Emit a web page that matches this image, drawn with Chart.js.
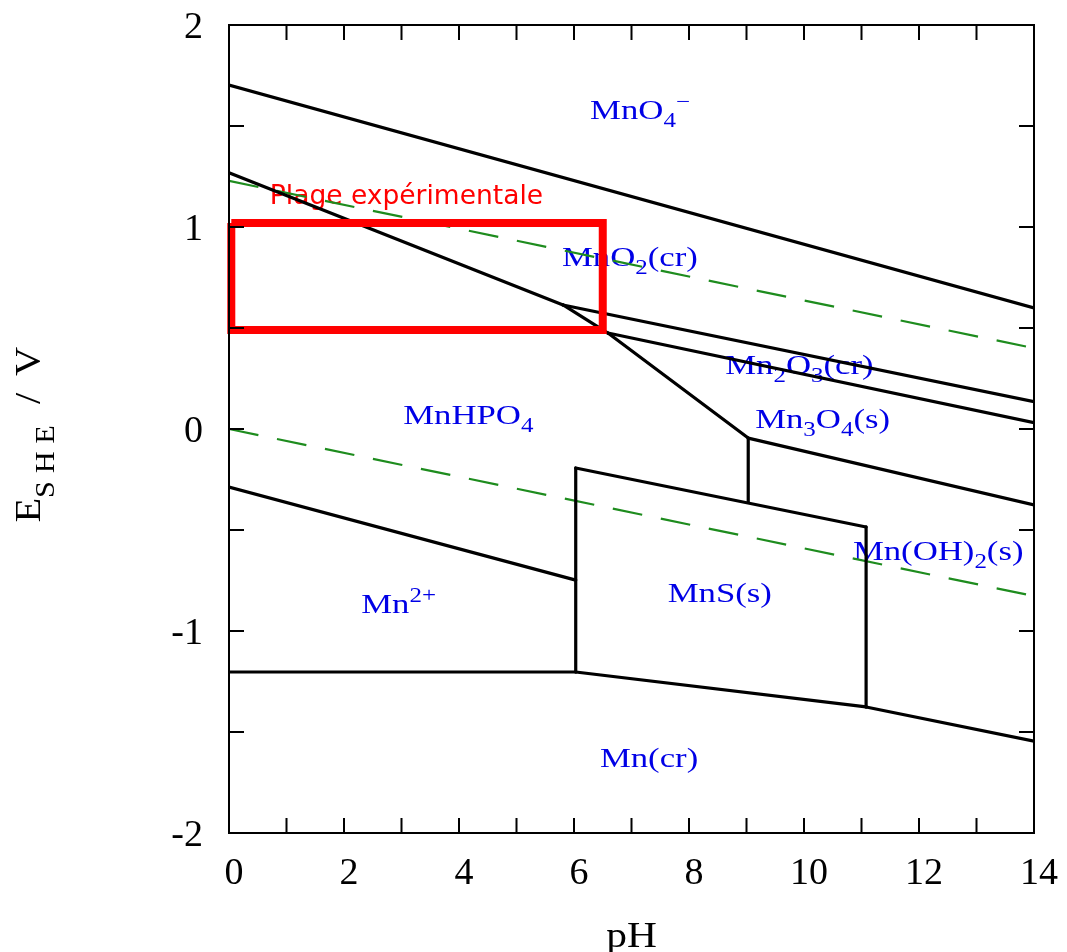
<!DOCTYPE html>
<html><head><meta charset="utf-8">
<script src="https://cdn.jsdelivr.net/npm/chart.js@4.4.0/dist/chart.umd.min.js"></script>
<style>html,body{margin:0;padding:0;background:#fff;} canvas{display:block;}</style>
</head><body>
<canvas id="c" width="1067" height="952"></canvas>
<script>
// ---------------- data ----------------
const xTickLabels = [0, 2, 4, 6, 8, 10, 12, 14];
const yTickLabels = [-2, -1, 0, 1, 2];

const boundaryNames = ['MnO4-/MnO2', 'MnO2/MnHPO4', 'MnO2/Mn2O3', 'Mn2O3/MnHPO4', 'Mn2O3/Mn3O4',
  'Mn3O4/MnHPO4', 'Mn3O4/Mn(OH)2', 'MnHPO4/Mn(OH)2', 'MnHPO4/MnS', 'Mn2+/MnS', 'MnS/Mn(OH)2',
  'Mn2+/MnHPO4', 'Mn2+/Mn', 'MnS/Mn', 'Mn(OH)2/Mn'];
const boundaryPH = [[0, 14], [0, 5.81], [5.81, 14], [5.81, 6.59], [6.59, 14],
  [6.59, 9.03], [9.03, 14], [9.03, 9.03], [6.03, 11.08], [6.03, 6.03], [11.08, 11.08],
  [0, 6.03], [0, 6.03], [6.03, 11.08], [11.08, 14]];
const boundaryE = [[1.703, 0.599], [1.269, 0.614], [0.614, 0.135], [0.614, 0.475], [0.475, 0.031],
  [0.475, -0.045], [-0.045, -0.376], [-0.045, -0.361], [-0.193, -0.485], [-0.193, -1.203], [-0.485, -1.376],
  [-0.287, -0.748], [-1.203, -1.203], [-1.203, -1.376], [-1.376, -1.545]];

const waterPH = [0, 14];
const waterO2E = [1.228, 0.400];
const waterH2E = [0.0, -0.827];

const rangePH = [0.04, 6.5, 6.5, 0.04, 0.04];
const rangeE = [1.02, 1.02, 0.49, 0.49, 1.02];
const rangeLabel = 'Plage expérimentale';

const regionNames = ['MnO_{4}^{−}', 'MnO_{2}(cr)', 'Mn_{2}O_{3}(cr)', 'Mn_{3}O_{4}(s)', 'MnHPO_{4}',
  'Mn(OH)_{2}(s)', 'MnS(s)', 'Mn^{2+}', 'Mn(cr)'];
// ---------------------------------------

// label anchors (left / baseline) in data coordinates
const regionAnchorPH = [6.28, 5.79, 8.63, 9.15, 3.03, 10.85, 7.63, 2.30, 6.45];
const regionAnchorE = [1.535, 0.807, 0.272, 0.005, 0.025, -0.649, -0.856, -0.911, -1.673];
const rangeLabelAnchor = [0.71, 1.114];

const SERIF = '"Liberation Serif", "Times New Roman", serif';

function parseRich(s) {
  const segs = []; let i = 0;
  const isMark = k => (s[k] === '_' || s[k] === '^') && s[k + 1] === '{';
  while (i < s.length) {
    if (isMark(i)) {
      const j = s.indexOf('}', i);
      segs.push({ t: s.slice(i + 2, j), k: s[i] === '_' ? 1 : 2 });
      i = j + 1;
    } else {
      let j = i; while (j < s.length && !isMark(j)) j++;
      segs.push({ t: s.slice(i, j), k: 0 }); i = j;
    }
  }
  return segs;
}
function richWidth(ctx, segs, o) {
  let w = 0;
  for (const s of segs) {
    const sz = s.k ? o.size * 0.72 : o.size;
    ctx.font = sz + 'px ' + o.family;
    for (const ch of s.t) w += ctx.measureText(ch).width + (o.spacing || 0);
  }
  return w * o.hscale;
}
function drawRich(ctx, str, x, y, o) {
  const segs = parseRich(str);
  ctx.save();
  ctx.translate(x, y);
  ctx.scale(o.hscale, 1);
  ctx.fillStyle = o.color;
  ctx.textBaseline = 'alphabetic'; ctx.textAlign = 'left';
  let cx = 0;
  for (const s of segs) {
    const sz = s.k ? o.size * 0.72 : o.size;
    const dy = s.k === 1 ? o.size * 0.3 : (s.k === 2 ? -o.size * 0.38 : 0);
    ctx.font = sz + 'px ' + o.family;
    for (const ch of s.t) {
      ctx.fillText(ch, cx, dy);
      cx += ctx.measureText(ch).width + (o.spacing || 0);
    }
  }
  ctx.restore();
}

const labelPlugin = {
  id: 'labels',
  beforeDatasetsDraw(chart) {
    const ctx = chart.ctx, xs = chart.scales.x, ys = chart.scales.y;
    regionNames.forEach((n, i) => {
      drawRich(ctx, n, xs.getPixelForValue(regionAnchorPH[i]), ys.getPixelForValue(regionAnchorE[i]),
        { size: 28, family: SERIF, color: '#0000e6', hscale: 1.24 });
    });
    ctx.save();
    ctx.font = '26.5px "DejaVu Sans", sans-serif';
    ctx.fillStyle = '#ff0000'; ctx.textBaseline = 'alphabetic'; ctx.textAlign = 'left';
    ctx.fillText(rangeLabel, xs.getPixelForValue(rangeLabelAnchor[0]), ys.getPixelForValue(rangeLabelAnchor[1]));
    ctx.restore();
  },
  afterDraw(chart) {
    const ctx = chart.ctx, a = chart.chartArea, xs = chart.scales.x, ys = chart.scales.y;
    ctx.save();
    ctx.strokeStyle = '#000'; ctx.lineWidth = 2;
    ctx.strokeRect(a.left, a.top, a.right - a.left, a.bottom - a.top);
    const tl = 15;
    ctx.beginPath();
    xs.ticks.forEach(t => {
      const px = xs.getPixelForValue(t.value);
      ctx.moveTo(px, a.bottom); ctx.lineTo(px, a.bottom - tl);
      ctx.moveTo(px, a.top); ctx.lineTo(px, a.top + tl);
    });
    ys.ticks.forEach(t => {
      const py = ys.getPixelForValue(t.value);
      ctx.moveTo(a.left, py); ctx.lineTo(a.left + tl, py);
      ctx.moveTo(a.right, py); ctx.lineTo(a.right - tl, py);
    });
    ctx.stroke();
    // x title
    const tOpts = { size: 36, family: SERIF, color: '#000', hscale: 1.15 };
    const wx = richWidth(ctx, parseRich('pH'), tOpts);
    drawRich(ctx, 'pH', (a.left + a.right) / 2 - wx / 2, 947, tOpts);
    // y title (rotated)
    ctx.translate(40, (a.top + a.bottom) / 2 + 4);
    ctx.rotate(-Math.PI / 2);
    const parts = [
      { t: 'E', size: 36, dy: 0, sp: 0 },
      { t: 'SHE', size: 27, dy: 14, sp: 7 },
      { t: ' / V', size: 36, dy: 0, sp: 3 }
    ];
    ctx.scale(1.12, 1);
    let total = 0;
    parts.forEach(p => { ctx.font = p.size + 'px ' + SERIF; for (const ch of p.t) total += ctx.measureText(ch).width + p.sp; });
    let cx = -total / 2;
    ctx.fillStyle = '#000'; ctx.textBaseline = 'alphabetic';
    parts.forEach(p => {
      ctx.font = p.size + 'px ' + SERIF;
      for (const ch of p.t) { ctx.fillText(ch, cx, p.dy); cx += ctx.measureText(ch).width + p.sp; }
    });
    ctx.restore();
  }
};

const datasets = [];
datasets.push({
  label: rangeLabel,
  data: rangePH.map((p, i) => ({ x: p, y: rangeE[i] })),
  borderColor: '#ff0000', borderWidth: 8, borderJoinStyle: 'miter', pointRadius: 0,
  showLine: true, fill: false, clip: false
});
boundaryNames.forEach((n, k) => {
  datasets.push({
    label: n,
    data: boundaryPH[k].map((p, i) => ({ x: p, y: boundaryE[k][i] })),
    borderColor: '#000', borderWidth: 3.2, borderCapStyle: 'round', pointRadius: 0, showLine: true, fill: false
  });
});
[waterO2E, waterH2E].forEach((arr, k) => {
  datasets.push({
    label: k ? 'H2O/H2' : 'O2/H2O',
    data: waterPH.map((p, i) => ({ x: p, y: arr[i] })),
    borderColor: '#1e8c1e', borderWidth: 2.2, borderDash: [30, 19], pointRadius: 0, showLine: true, fill: false
  });
});

new Chart(document.getElementById('c'), {
  type: 'scatter',
  data: { datasets },
  options: {
    responsive: false,
    devicePixelRatio: 1,
    animation: false,
    layout: { padding: { top: 25, right: 33, left: 0, bottom: 0 } },
    plugins: { legend: { display: false }, tooltip: { enabled: false } },
    elements: { line: { tension: 0 } },
    scales: {
      x: {
        type: 'linear', position: 'bottom', min: 0, max: 14,
        grid: { display: false, drawTicks: false }, border: { display: false },
        ticks: {
          stepSize: 1, autoSkip: false, maxRotation: 0, padding: 18, labelOffset: 5, color: '#000',
          font: { family: SERIF, size: 38 },
          callback: v => xTickLabels.includes(v) ? String(v) : ''
        },
        afterFit: s => { s.height = 119; s.paddingLeft = 0; s.paddingRight = 0; }
      },
      y: {
        type: 'linear', position: 'left', min: -2, max: 2,
        grid: { display: false, drawTicks: false }, border: { display: false },
        ticks: {
          stepSize: 0.5, autoSkip: false, padding: 26, labelOffset: 3, color: '#000',
          font: { family: SERIF, size: 38 },
          callback: v => yTickLabels.includes(v) ? String(v) : ''
        },
        afterFit: s => { s.width = 229; s.paddingTop = 0; s.paddingBottom = 0; }
      }
    }
  },
  plugins: [labelPlugin]
});
</script>
</body></html>
